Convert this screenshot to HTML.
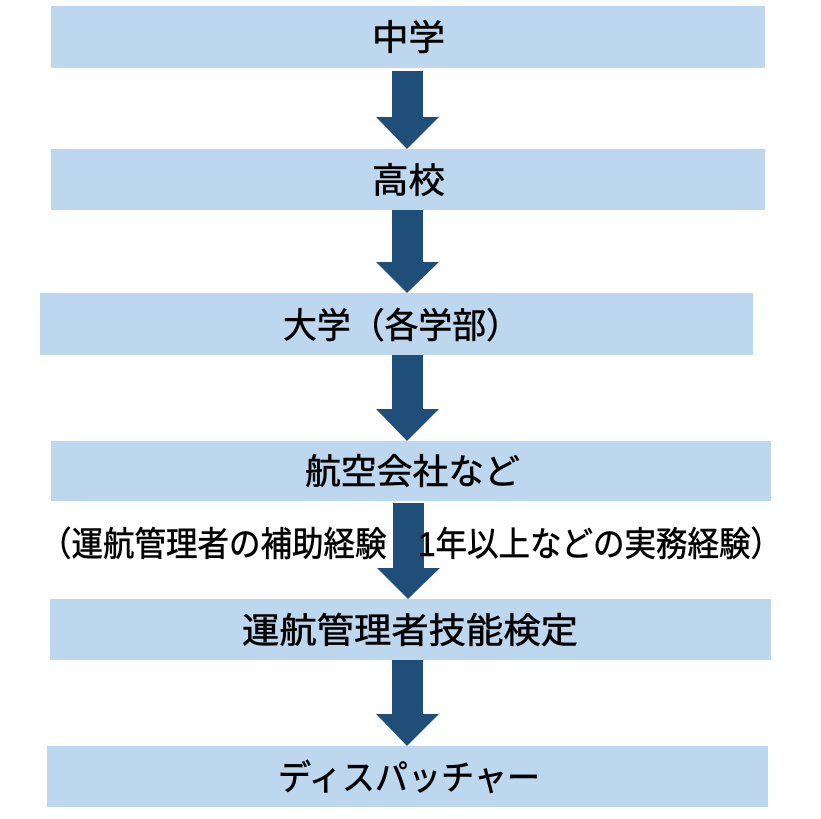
<!DOCTYPE html>
<html><head><meta charset="utf-8"><style>
body{margin:0;background:#fff;}
svg{display:block}
text{font-family:"Liberation Sans","Noto Sans CJK JP",sans-serif;fill:#000;stroke:#000;stroke-width:0.6;}
</style></head><body>
<svg width="821" height="819" viewBox="0 0 821 819" xmlns="http://www.w3.org/2000/svg">
<g fill="#bdd7ee">
<rect x="51" y="6" width="714" height="62"/>
<rect x="51" y="149" width="714" height="61"/>
<rect x="40" y="293" width="713" height="62"/>
<rect x="51" y="441" width="720" height="60"/>
<rect x="50" y="599" width="721" height="61"/>
<rect x="47" y="746" width="721" height="61"/>
</g>
<g fill="#1f4e79">
<polygon points="392,71 423,71 423,117 439,117 407,149 376,117 392,117"/>
<polygon points="392,210 423,210 423,262 439,262 407,293 376,262 392,262"/>
<polygon points="392,355 423,355 423,409 439,409 407,441 376,409 392,409"/>
<polygon points="393,503 424,503 424,568 440,568 408,599 377,568 393,568"/>
<polygon points="392,660 423,660 423,714 439,714 407,746 376,714 392,714"/>
</g>
<g font-size="35" lengthAdjust="spacingAndGlyphs">
<text x="372" y="50" textLength="73" lengthAdjust="spacingAndGlyphs">中学</text>
<text x="372" y="193" textLength="73" lengthAdjust="spacingAndGlyphs">高校</text>
<text x="283" y="338" textLength="237" lengthAdjust="spacingAndGlyphs">大学（各学部）</text>
<text x="305" y="484" textLength="215" lengthAdjust="spacingAndGlyphs">航空会社など</text>
<text x="242" y="643" textLength="336" lengthAdjust="spacingAndGlyphs">運航管理者技能検定</text>
<text x="278" y="790" textLength="262" lengthAdjust="spacingAndGlyphs">ディスパッチャー</text>
</g>
<text x="40" y="556" font-size="34" textLength="742" lengthAdjust="spacingAndGlyphs">（運航管理者の補助経験　1年以上などの実務経験）</text>
</svg>
</body></html>
